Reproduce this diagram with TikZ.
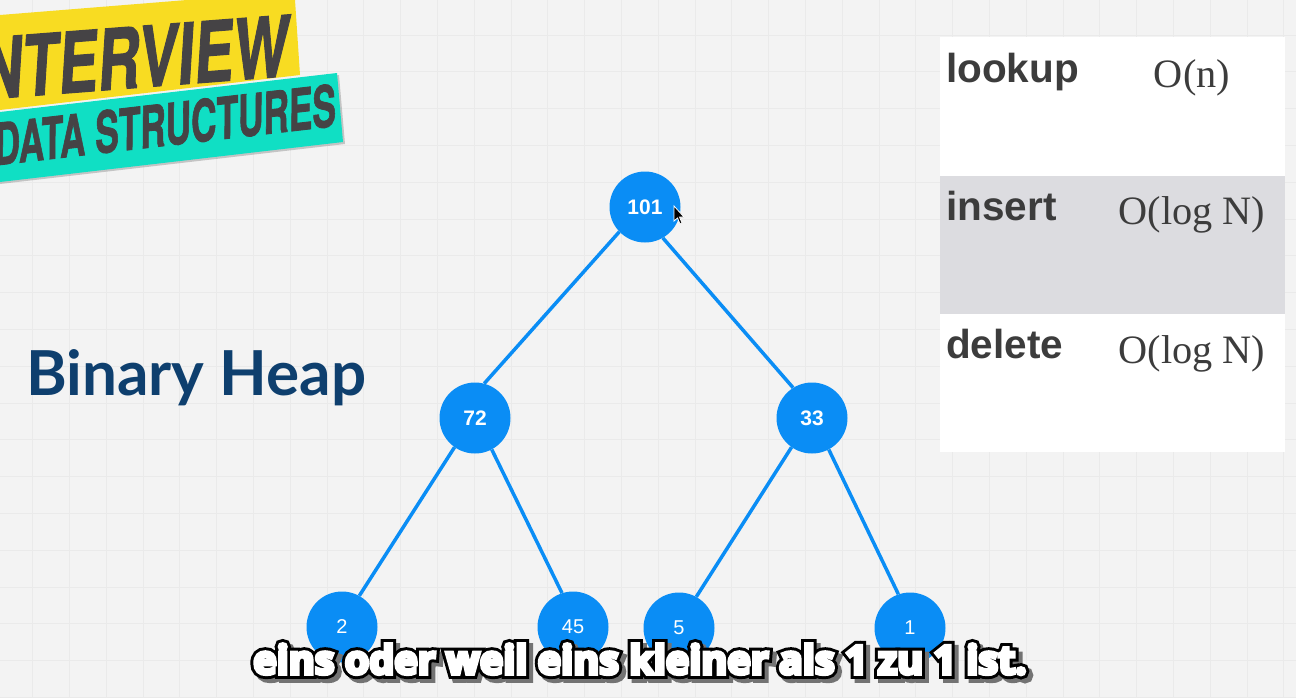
\documentclass[tikz,border=0pt]{standalone}
\usepackage{fontspec}
\setmainfont{Liberation Sans}
\newfontfamily\seriff{Liberation Serif}
\newfontfamily\latof{Lato}
\newfontfamily\subo[BoldFeatures={FakeBold=24}]{Open Sans}
\newfontfamily\subb[BoldFeatures={FakeBold=9}]{Open Sans}
\newfontfamily\bann[BoldFeatures={FakeSlant=0.2,FakeBold=1.5}]{TeX Gyre Heros}
\definecolor{bgc}{HTML}{F3F3F3}
\definecolor{gridc}{HTML}{EAEAEA}
\definecolor{blu}{HTML}{0A8DF5}
\definecolor{yel}{HTML}{F8DC22}
\definecolor{tea}{HTML}{10DFC4}
\definecolor{ink}{HTML}{454345}
\definecolor{headc}{HTML}{0E3F6E}
\definecolor{band}{HTML}{DCDCE0}
\definecolor{tabt}{HTML}{3C3C3C}
\tikzset{
 heapnode/.style={circle,fill=blu,minimum size=71pt,inner sep=0pt,text=white,font=\fontsize{21}{21}\selectfont\bfseries},
 leafnode/.style={heapnode,font=\fontsize{20}{20}\selectfont},
 edge/.style={draw=blu,line width=3.5pt},
 oplabel/.style={anchor=base west,inner sep=0pt,text=tabt,font=\fontsize{40.5}{40.5}\selectfont\bfseries},
 costlabel/.style={anchor=base,inner sep=0pt,text=tabt,font=\fontsize{40.3}{40.3}\seriff},
 bantext/.style={inner sep=0pt,text=ink,transform shape,anchor=base east},
}
\begin{document}
\begin{tikzpicture}[x=1pt,y=-1pt]
\useasboundingbox (0,0) rectangle (1296,697);
\fill[bgc] (0,0) rectangle (1296,697);
\foreach \i in {0,...,35} \draw[gridc,line width=1pt] ({32.6+\i*36.8},0) -- ({32.6+\i*36.8},697);
\foreach \i in {0,...,18} \draw[gridc,line width=1pt] (0,{35+\i*36.8}) -- (1296,{35+\i*36.8});
% banners
\fill[yel] (0,15) -- (187,0) -- (295,0) -- (300,75) -- (0,110) -- cycle;
\begin{scope}
\clip (0,0) rectangle (1296,697);
\node[bantext,rotate=4.4,xscale=.95,yscale=1.35] at (288,76) {\fontsize{62}{62}\selectfont\bann\bfseries INTERVIEW};
\end{scope}
\fill[black!45,opacity=.45] (0,114) -- (339,75) -- (345,144) -- (0,184) -- cycle;
\fill[tea] (0,112) -- (337,73) -- (343,142) -- (0,182) -- cycle;
\node[bantext,rotate=6.6,xscale=.71,yscale=1.15] at (336,126) {\fontsize{50}{50}\selectfont\bann\bfseries DATA STRUCTURES};
% heading
\node[anchor=base west,inner sep=0pt,text=headc,font=\fontsize{62}{62}\latof\bfseries] (title) at (26,395) {Binary Heap};
% table
\fill[white] (940,37) rectangle (1285,452);
\fill[band] (940,176) rectangle (1285,314);
\node[oplabel] (l1) at (946,82) {lookup};
\node[oplabel] (l2) at (946,220) {insert};
\node[oplabel] (l3) at (946,358) {delete};
\node[costlabel] (c1) at (1192,87) {O(n)};
\node[costlabel] (c2) at (1192,224) {O(log N)};
\node[costlabel] (c3) at (1192,363) {O(log N)};
% tree
\node[heapnode] (a) at (645,207) {101};
\node[heapnode] (b) at (475,418) {72};
\node[heapnode] (c) at (812,418) {33};
\node[leafnode] (d) at (342,627) {2};
\node[leafnode] (e) at (573,627) {45};
\node[leafnode] (f) at (679,628) {5};
\node[leafnode] (g) at (910,628) {1};
\draw[edge] (a.224) -- (b.75);
\draw[edge] (a.-60) -- (c.122);
\draw[edge] (b.235) -- (d.61);
\draw[edge] (b.-62) -- (e.108);
\draw[edge] (c.235) -- (f.61);
\draw[edge] (c.-62) -- (g.109);
% cursor
\draw[white,line width=.8pt,fill=black] (674,206) -- (674,221) -- (677.5,218) -- (680,224) -- (682,223) -- (679.5,217) -- (684,217) -- cycle;
% subtitle
\node[anchor=base,inner sep=0pt,font=\fontsize{39.6}{39.6}\selectfont] (sub) at (640,674) {\rlap{\kern4pt\raisebox{-4pt}{\subo\bfseries\color{black!55}eins oder weil eins kleiner als 1 zu 1 ist.}}\rlap{\subo\bfseries\color{black}eins oder weil eins kleiner als 1 zu 1 ist.}\subb\bfseries\color{white}eins oder weil eins kleiner als 1 zu 1 ist.};
\end{tikzpicture}
\end{document}
